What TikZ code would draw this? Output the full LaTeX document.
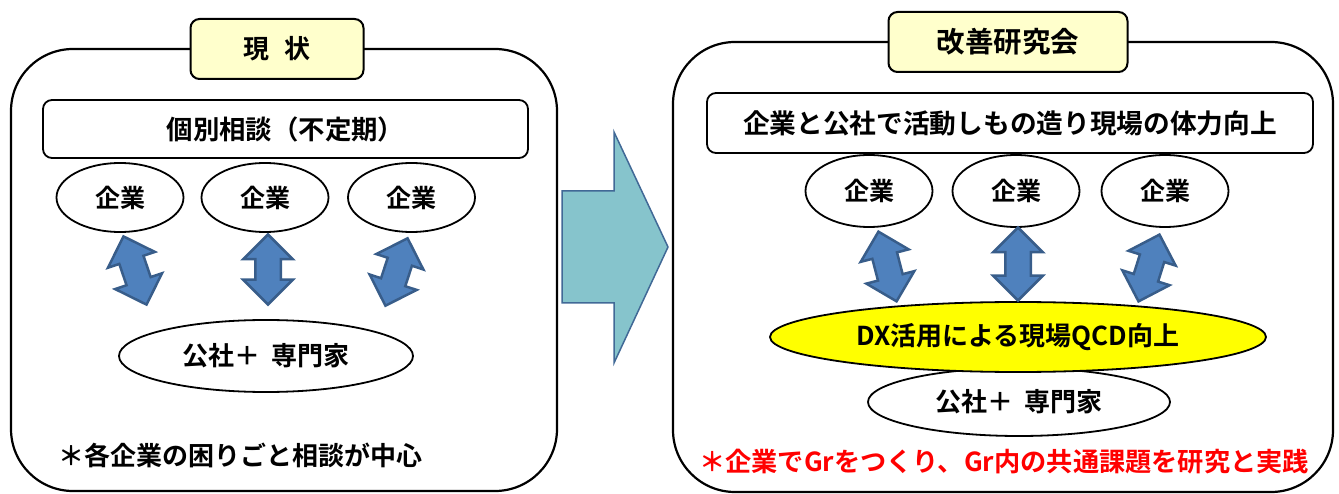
\documentclass[tikz,border=0pt]{standalone}
\usepackage{fontspec}
\setmainfont{Noto Sans CJK JP}[BoldFont={* Bold}]
\usetikzlibrary{shapes.geometric,shapes.arrows}
\definecolor{titlefill}{RGB}{255,255,204}
\definecolor{bigarrowfill}{RGB}{134,196,204}
\definecolor{bigarrowline}{RGB}{65,105,150}
\definecolor{dblfill}{RGB}{79,129,189}
\definecolor{dblline}{RGB}{56,93,138}
\definecolor{redtext}{RGB}{255,0,0}
\definecolor{dxfill}{RGB}{255,255,0}
\begin{document}
\begin{tikzpicture}[x=1pt,y=-1pt,
  panel/.style={draw, line width=2.2pt, rounded corners=62pt, inner sep=0pt},
  titlebox/.style={draw, fill=titlefill, line width=2pt, rounded corners=9pt, inner sep=0pt},
  banner/.style={draw, fill=white, line width=1.8pt, rounded corners=9pt, inner sep=0pt},
  firm/.style={draw, ellipse, line width=1.8pt, fill=white, inner sep=0pt,
    minimum width=127pt, minimum height=69pt, font=\bfseries\fontsize{25}{28}\selectfont},
  expert/.style={draw, ellipse, line width=1.8pt, fill=white, inner sep=0pt,
    font=\bfseries\fontsize{26}{30}\selectfont},
  dxoval/.style={draw, ellipse, line width=1.8pt, fill=dxfill, inner sep=0pt,
    font=\bfseries\fontsize{26}{30}\selectfont},
  dbl/.style={double arrow, draw=dblline, fill=dblfill, line width=2.5pt,
    inner xsep=0pt, inner ysep=11.5pt, double arrow head extend=12pt,
    double arrow tip angle=90, sloped},
  bigarrow/.style={draw=bigarrowline, fill=bigarrowfill, line width=1.5pt, line join=miter},
  note/.style={inner sep=0pt, font=\bfseries\fontsize{26}{30}\selectfont}
]
\useasboundingbox (0,0) rectangle (1339,494);

% ---------- left panel ----------
\node[panel, minimum width=546pt, minimum height=442pt] (lpanel) at (284,270) {};
\node[titlebox, minimum width=173pt, minimum height=60pt,
  font=\bfseries\fontsize{26}{30}\selectfont] (ltitle) at (277,49) {現\hspace{0.6em}状};
\node[banner, minimum width=485pt, minimum height=58pt,
  font=\bfseries\fontsize{26.4}{30}\selectfont] (lbanner) at (285.5,129) {個別相談（不定期）};
\node[firm] (lf1) at (120,197.5) {企業};
\node[firm] (lf2) at (265,197.5) {企業};
\node[firm] (lf3) at (411.5,197.5) {企業};
\node[expert, minimum width=294pt, minimum height=72pt] (lexp) at (266,356) {公社＋\hspace{0.45em}専門家};
\node[note, anchor=west] (lnote) at (58,455) {＊各企業の困りごと相談が中心};

\coordinate (la1) at (123,235); \coordinate (lb1) at (147,306);
\coordinate (la2) at (268,233); \coordinate (lb2) at (268,306);
\coordinate (la3) at (408,237); \coordinate (lb3) at (385,307);
\path (la1) -- node[dbl, minimum height=72pt] (ld1) {} (lb1);
\path (la2) -- node[dbl, minimum height=70pt] (ld2) {} (lb2);
\path (la3) -- node[dbl, minimum height=71pt] (ld3) {} (lb3);

% ---------- big arrow ----------
\draw[bigarrow] (562,191) -- (614,191) -- (614,132) -- (668,247) -- (614,363)
  -- (614,303) -- (562,303) -- cycle;

% ---------- right panel ----------
\node[panel, minimum width=660pt, minimum height=450pt] (rpanel) at (1003,267) {};
\node[titlebox, minimum width=239pt, minimum height=60pt,
  font=\bfseries\fontsize{28.5}{32}\selectfont] (rtitle) at (1008,42) {改善研究会};
\node[banner, minimum width=606pt, minimum height=60pt,
  font=\bfseries\fontsize{26.7}{30}\selectfont] (rbanner) at (1010,123) {企業と公社で活動しもの造り現場の体力向上};
\node[firm, minimum height=72pt] (rf1) at (869,191) {企業};
\node[firm, minimum height=72pt] (rf2) at (1016,191) {企業};
\node[firm, minimum height=72pt] (rf3) at (1165,191) {企業};
\node[expert, minimum width=302pt, minimum height=68pt] (rexp) at (1019,402) {公社＋\hspace{0.45em}専門家};
\node[dxoval, minimum width=496pt, minimum height=70pt] (rdx) at (1018,337) {DX活用による現場QCD向上};
\node[note, anchor=west, text=redtext, font=\bfseries\fontsize{26.2}{30}\selectfont] (rnote) at (699,462)
  {＊企業でGrをつくり、Gr内の共通課題を研究と実践};

\coordinate (ra1) at (878,230); \coordinate (rb1) at (897,303);
\coordinate (ra2) at (1018,226); \coordinate (rb2) at (1018,302);
\coordinate (ra3) at (1160,233); \coordinate (rb3) at (1138,303);
\path (ra1) -- node[dbl, minimum height=72pt] (rd1) {} (rb1);
\path (ra2) -- node[dbl, minimum height=73pt] (rd2) {} (rb2);
\path (ra3) -- node[dbl, minimum height=70pt] (rd3) {} (rb3);
\end{tikzpicture}
\end{document}
